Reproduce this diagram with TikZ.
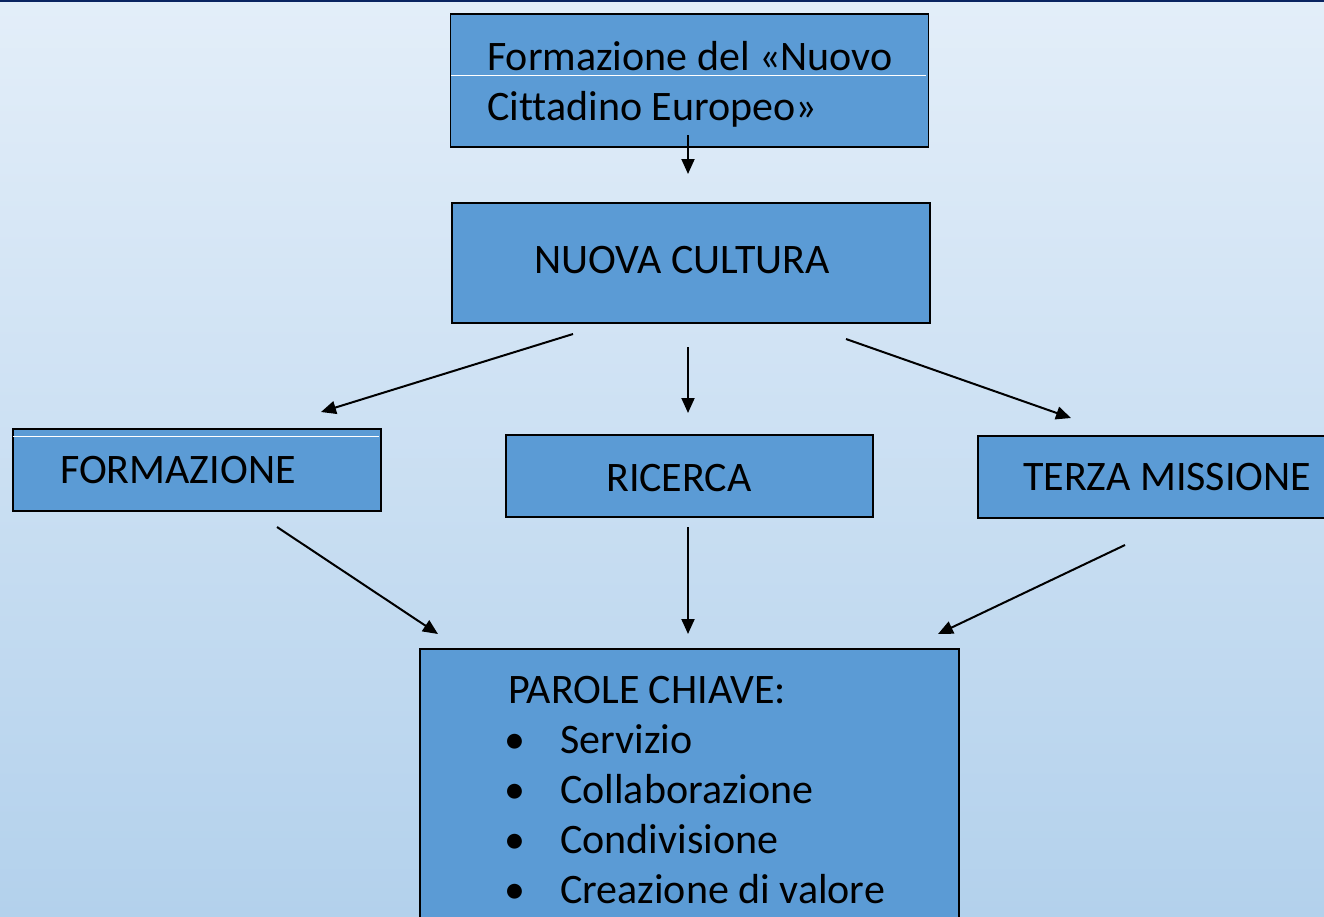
\documentclass[tikz,border=0pt]{standalone}
\usepackage{fontspec}
\setmainfont{Carlito}[Ligatures=NoCommon]
\usetikzlibrary{arrows.meta}
\definecolor{bgtop}{HTML}{E3EEF9}
\definecolor{bgbot}{HTML}{B3D1EC}
\definecolor{boxfill}{HTML}{5B9BD5}
\definecolor{navy}{HTML}{0A2461}
\tikzset{
  box/.style={draw=black, line width=1.8pt, fill=boxfill, inner sep=0pt, anchor=north west},
  lbl/.style={font=\fontsize{42}{50}\selectfont, inner sep=0pt, anchor=base west, text=black},
  conn/.style={line width=2pt, -{Triangle[length=15pt,width=13pt]}},
  glint/.style={white, line width=0.8pt}
}
\begin{document}
\begin{tikzpicture}[x=1pt,y=-1pt]
\useasboundingbox (0,0) rectangle (1324,916);
\clip (0,0) rectangle (1324,916);
\shade[top color=bgtop, bottom color=bgbot] (0,0) rectangle (1324,916);
\draw[navy, line width=2.5pt] (0,1) -- (1324,1);

% boxes
\node[box, minimum width=478pt, minimum height=133pt] (top) at (449.5,13) {};
\node[box, minimum width=478pt, minimum height=120pt] (cult) at (451,202) {};
\node[box, minimum width=368pt, minimum height=82pt] (form) at (12,428) {};
\node[box, minimum width=367pt, minimum height=82pt] (ric) at (505,434) {};
\node[box, minimum width=400pt, minimum height=82pt] (terza) at (977,435) {};
\node[box, minimum width=539pt, minimum height=300pt] (parole) at (419,648) {};

% thin white lines inside boxes
\draw[glint] (451,75) -- (926,75);
\draw[glint] (13,436) -- (379,436);

% texts
\node[lbl] (topA) at (487,70) {Formazione del «Nuovo};
\node[lbl] (topB) at (487,120) {Cittadino Europeo»};
\node[lbl] (cultT) at (534,273) {NUOVA CULTURA};
\node[lbl] (formT) at (60,483) {FORMAZIONE};
\node[lbl] (ricT) at (606,491) {RICERCA};
\node[lbl] (terzaT) at (1023,490) {TERZA MISSIONE};
\node[lbl] (pc) at (508,703) {PAROLE CHIAVE:};
\foreach \i/\t/\yy in {1/Servizio/753, 2/Collaborazione/803, 3/Condivisione/853, 4/Creazione di valore/903}{
  \node[lbl, anchor=base] (b\i) at (515,\yy) {•};
  \node[lbl] (k\i) at (560,\yy) {\t};
}

% connector end points
\coordinate (a1s) at (688,135); \coordinate (a1e) at (688,174);
\coordinate (a2s) at (573,334); \coordinate (a2e) at (321,412);
\coordinate (a3s) at (688,347); \coordinate (a3e) at (688,413);
\coordinate (a4s) at (846,339); \coordinate (a4e) at (1071,418);
\coordinate (a5s) at (277,527); \coordinate (a5e) at (438,634);
\coordinate (a6s) at (688,527); \coordinate (a6e) at (688,634);
\coordinate (a7s) at (1125,545); \coordinate (a7e) at (938,634);

\foreach \k in {1,...,7}{\draw[conn] (a\k s) -- (a\k e);}
\end{tikzpicture}
\end{document}
